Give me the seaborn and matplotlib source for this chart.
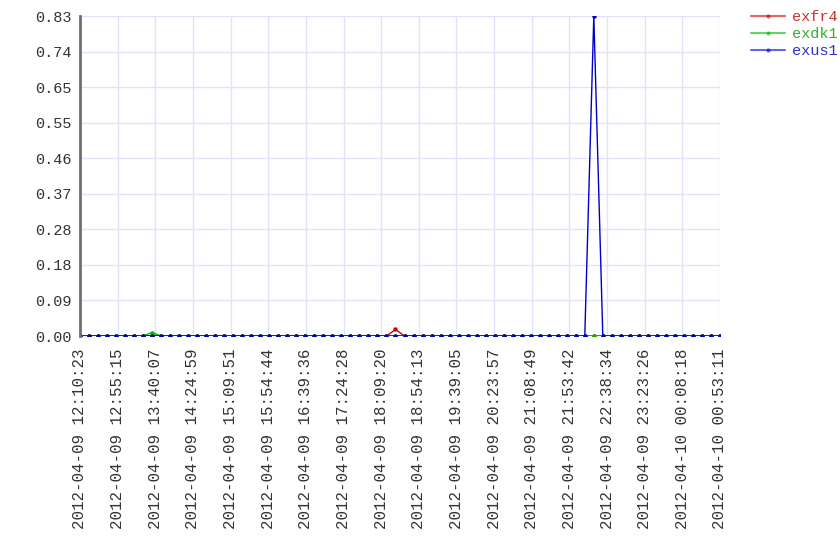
import pandas as pd
import numpy as np
import matplotlib
matplotlib.use('Agg')
import matplotlib.pyplot as plt
import seaborn as sns

# data
start_time = '2012-04-09 12:10:23'
end_time = '2012-04-10 00:53:11'
n_points = 72

exfr4 = [0, 0, 0, 0, 0, 0, 0, 0, 0, 0, 0, 0, 0, 0, 0, 0, 0, 0, 0, 0, 0, 0, 0, 0,
         0, 0, 0, 0, 0, 0, 0, 0, 0, 0, 0, 0.017, 0, 0, 0, 0, 0, 0, 0, 0, 0, 0, 0, 0,
         0, 0, 0, 0, 0, 0, 0, 0, 0, 0, 0, 0, 0, 0, 0, 0, 0, 0, 0, 0, 0, 0, 0, 0]
exdk1 = [0, 0, 0, 0, 0, 0, 0, 0, 0.009, 0, 0, 0, 0, 0, 0, 0, 0, 0, 0, 0, 0, 0, 0, 0,
         0, 0, 0, 0, 0, 0, 0, 0, 0, 0, 0, 0, 0, 0, 0, 0, 0, 0, 0, 0, 0, 0, 0, 0,
         0, 0, 0, 0, 0, 0, 0, 0, 0, 0, 0, 0, 0, 0, 0, 0, 0, 0, 0, 0, 0, 0, 0, 0]
exus1 = [0, 0, 0, 0, 0, 0, 0, 0, 0, 0, 0, 0, 0, 0, 0, 0, 0, 0, 0, 0, 0, 0, 0, 0,
         0, 0, 0, 0, 0, 0, 0, 0, 0, 0, 0, 0, 0, 0, 0, 0, 0, 0, 0, 0, 0, 0, 0, 0,
         0, 0, 0, 0, 0, 0, 0, 0, 0, 0.83, 0, 0, 0, 0, 0, 0, 0, 0, 0, 0, 0, 0, 0, 0]

series_names = ['exfr4', 'exdk1', 'exus1']
line_colors = ['#cc0000', '#00bb00', '#0000cc']
text_colors = ['#d03030', '#30b030', '#3030cc']

x_labels = ['2012-04-09 12:10:23', '2012-04-09 12:55:15', '2012-04-09 13:40:07',
            '2012-04-09 14:24:59', '2012-04-09 15:09:51', '2012-04-09 15:54:44',
            '2012-04-09 16:39:36', '2012-04-09 17:24:28', '2012-04-09 18:09:20',
            '2012-04-09 18:54:13', '2012-04-09 19:39:05', '2012-04-09 20:23:57',
            '2012-04-09 21:08:49', '2012-04-09 21:53:42', '2012-04-09 22:38:34',
            '2012-04-09 23:23:26', '2012-04-10 00:08:18', '2012-04-10 00:53:11']
y_labels = ['0.00', '0.09', '0.18', '0.28', '0.37', '0.46', '0.55', '0.65', '0.74', '0.83']
y_max = 0.83

times = pd.date_range(start_time, end_time, periods=n_points)
df = pd.DataFrame({'time': np.tile(times, 3),
                   'value': exfr4 + exdk1 + exus1,
                   'series': np.repeat(series_names, n_points)})

sns.set_style('white')
plt.rcParams['font.family'] = ['Liberation Mono', 'DejaVu Sans Mono']

fig = plt.figure(figsize=(8.4, 5.6), dpi=100)
ax = fig.add_axes([80/840, 1-336/560, 640/840, 320/560])

sns.lineplot(data=df, x='time', y='value', hue='series', hue_order=series_names,
             palette=line_colors, marker='o', markersize=3.2, markeredgewidth=0,
             linewidth=1, ax=ax, legend=False)

tick_pos = pd.date_range(start_time, end_time, periods=len(x_labels))
ax.set_xticks(tick_pos)
ax.set_xticklabels(x_labels, rotation=90)
ax.set_yticks(np.linspace(0, y_max, len(y_labels)))
ax.set_yticklabels(y_labels)
ax.set_xlim(tick_pos[0], tick_pos[-1])
ax.set_ylim(0, y_max)
ax.set_xlabel('')
ax.set_ylabel('')

ax.grid(True, color='#e2e2ff', linewidth=1)
ax.set_axisbelow(True)
for s in ['top', 'right', 'bottom']:
    ax.spines[s].set_visible(False)
ax.spines['left'].set_color('#707070')
ax.spines['left'].set_linewidth(2)
ax.tick_params(axis='both', length=0, labelcolor='#333333')
ax.tick_params(axis='y', pad=6, labelsize=11)
ax.tick_params(axis='x', pad=9, labelsize=11.3)

handles = [plt.Line2D([], [], color=c, marker='o', markersize=3, linewidth=1.5, alpha=0.6,
                      markerfacecolor=c, markeredgewidth=0) for c in line_colors]
leg = fig.legend(handles, series_names, loc='upper left', bbox_to_anchor=(745/840, 1-4/560),
                 frameon=False, fontsize=11, labelspacing=0.2, handlelength=2.2,
                 handletextpad=0.5, borderaxespad=0)
for t, c in zip(leg.get_texts(), text_colors):
    t.set_color(c)

fig.savefig('out.png', dpi=100)
